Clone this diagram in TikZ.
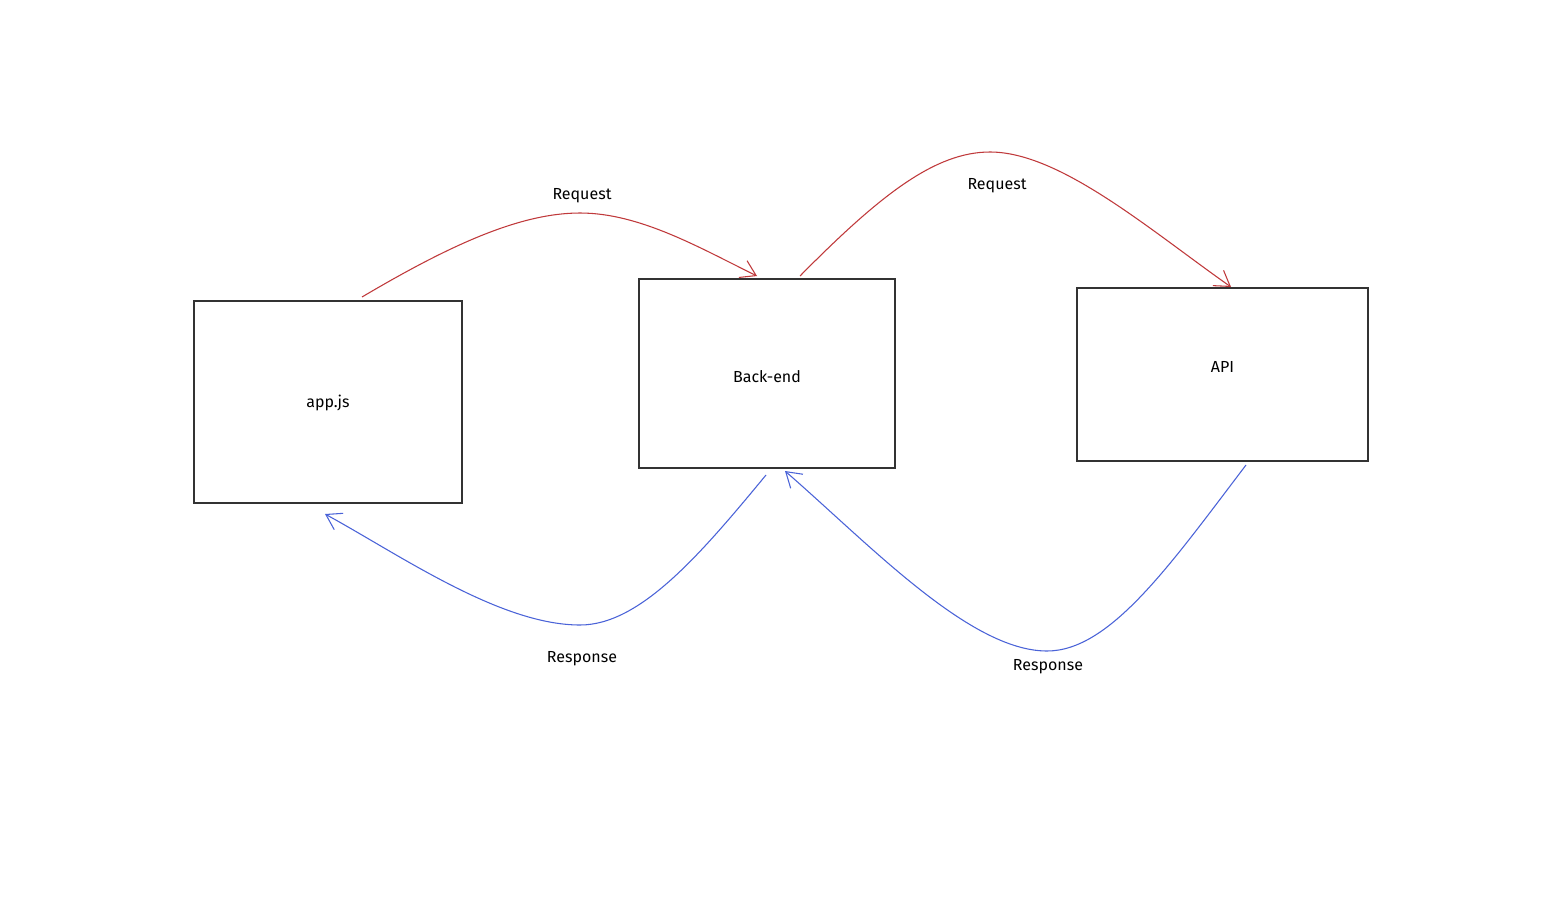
\documentclass[tikz,border=0pt]{standalone}
\usepackage{fontspec}
\setmainfont{Fira Sans}
\usetikzlibrary{arrows.meta}
\definecolor{boxline}{HTML}{333333}
\definecolor{reqred}{HTML}{C0393B}
\definecolor{resblue}{HTML}{4A63D8}
\tikzset{
  boxnode/.style={draw=boxline, line width=1.0pt, fill=white, inner sep=0pt},
  boxtext/.style={font=\fontsize{12}{14}\selectfont},
  reqarrow/.style={draw=reqred, line width=0.8pt, -{Straight Barb[length=11pt,width=14pt,line width=0.8pt]}},
  resarrow/.style={draw=resblue, line width=0.8pt, -{Straight Barb[length=11pt,width=14pt,line width=0.8pt]}},
  lbl/.style={font=\fontsize{12}{14}\selectfont, inner sep=1pt}
}
\begin{document}
\begin{tikzpicture}[x=0.75pt, y=-0.75pt]
\useasboundingbox[fill=white] (0,0) rectangle (1541,896);
\node[boxnode, minimum width=201pt, minimum height=151.5pt,
      label={[boxtext, yshift=-0.8pt]center:app.js}] (app) at (328,402) {};
\node[boxnode, minimum width=192pt, minimum height=141.75pt,
      label={[boxtext, yshift=-2.6pt]center:Back-end}] (back) at (767,373.5) {};
\node[boxnode, minimum width=218.25pt, minimum height=129.75pt,
      label={[boxtext, yshift=5.6pt]center:API}] (api) at (1222.5,374.5) {};

\coordinate (r1s) at (362,297);
\coordinate (r1p) at (580,213);
\coordinate (r1e) at (757,276);
\coordinate (r2s) at (800,276);
\coordinate (r2p) at (990,152);
\coordinate (r2e) at (1231,287);
\coordinate (b1s) at (766,475);
\coordinate (b1p) at (580,625);
\coordinate (b1e) at (325,514);
\coordinate (b2s) at (1246,465);
\coordinate (b2p) at (1047,651);
\coordinate (b2e) at (785,471);

\draw[reqarrow] (r1s) .. controls (450,245) and (520,213) .. (r1p) .. controls (640,213) and (700,248) .. (r1e);
\draw[reqarrow] (r2s) .. controls (880,195) and (935,152) .. (r2p) .. controls (1060,152) and (1150,230) .. (r2e);
\draw[resarrow] (b1s) .. controls (700,555) and (640,625) .. (b1p) .. controls (500,625) and (400,555) .. (b1e);
\draw[resarrow] (b2s) .. controls (1170,565) and (1110,651) .. (b2p) .. controls (970,651) and (870,545) .. (b2e);

\node[lbl] (l1) at (582,196) {Request};
\node[lbl] (l2) at (997,186) {Request};
\node[lbl] (l3) at (582,659) {Response};
\node[lbl] (l4) at (1048,667) {Response};
\end{tikzpicture}
\end{document}
